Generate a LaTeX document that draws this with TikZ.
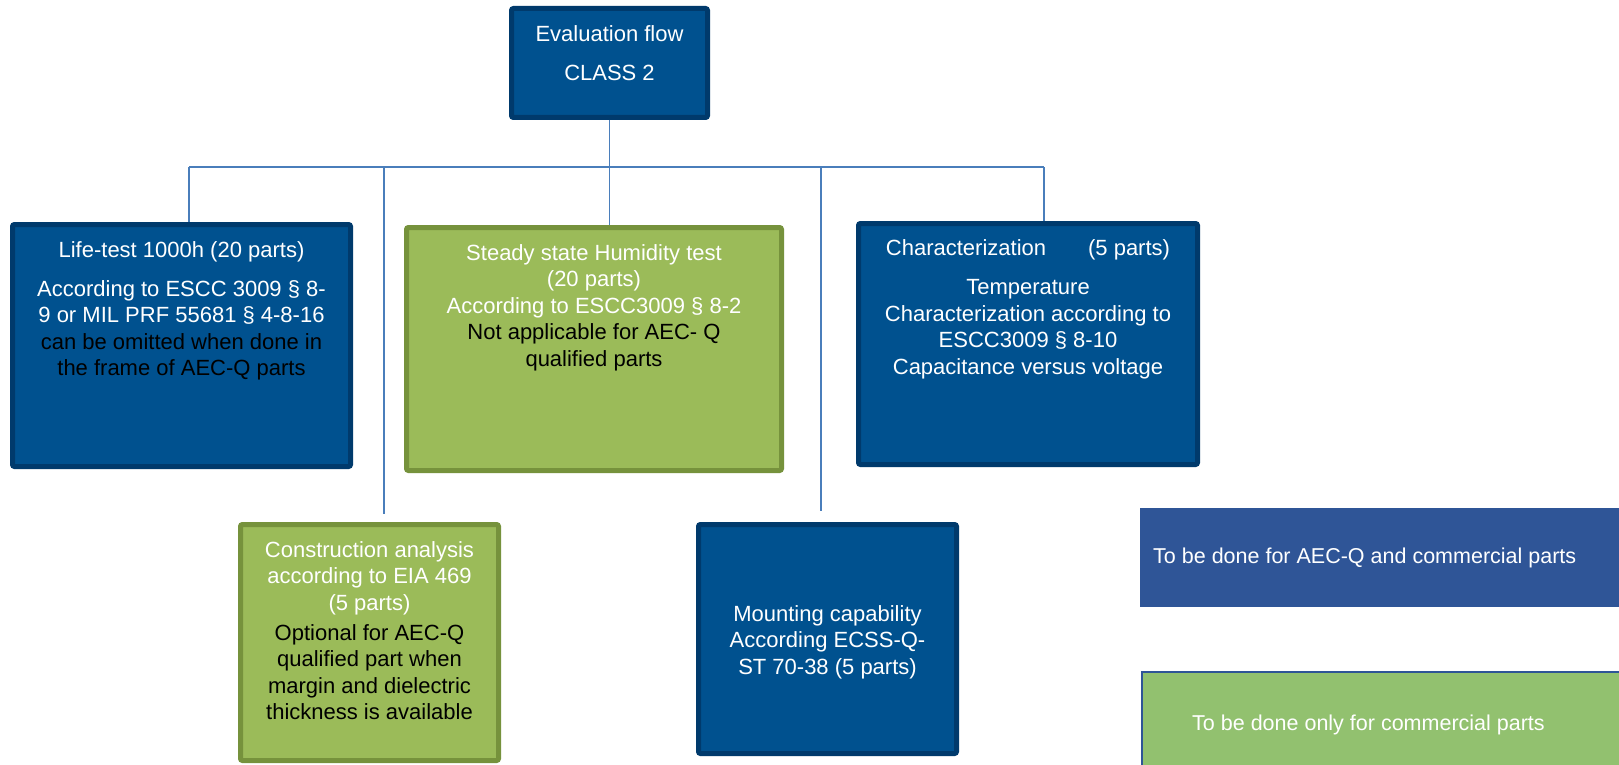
\documentclass[tikz,border=0pt]{standalone}
\usepackage{fontspec}
\setmainfont{Liberation Sans}
\definecolor{bfill}{HTML}{00518F}
\definecolor{bdraw}{HTML}{003A6C}
\definecolor{gfill}{HTML}{9BBB59}
\definecolor{gdraw}{HTML}{76923C}
\definecolor{lblue}{HTML}{2F5597}
\definecolor{lgreen}{HTML}{92C16F}
\definecolor{conncol}{HTML}{4A7EBB}
\begin{document}
\begin{tikzpicture}[x=1pt,y=-1pt,
  bluebox/.style={draw=bdraw, fill=bfill, line width=5pt, rounded corners=2pt, inner sep=0pt},
  greenbox/.style={draw=gdraw, fill=gfill, line width=5pt, rounded corners=2pt, inner sep=0pt},
  txt/.style={anchor=north, align=center, inner sep=0pt, text=white, font=\fontsize{22}{26.5}\selectfont},
  legtxt/.style={anchor=west, inner sep=0pt, text=white, font=\fontsize{21.5}{26}\selectfont},
  conn/.style={draw=conncol, line width=1.5pt}]
\useasboundingbox (0,0) rectangle (1619,765);
\fill[white] (0,0) rectangle (1619,765);

% boxes
\node[bluebox, minimum width=196pt, minimum height=109pt] (top) at (609.5,63) {};
\node[bluebox, minimum width=338pt, minimum height=242pt] (life) at (181.5,345.5) {};
\node[greenbox, minimum width=375pt, minimum height=243pt] (steady) at (594,349) {};
\node[bluebox, minimum width=339pt, minimum height=241pt] (char) at (1028,344) {};
\node[greenbox, minimum width=258pt, minimum height=236pt] (constr) at (369.5,642.5) {};
\node[bluebox, minimum width=258pt, minimum height=229pt] (mount) at (827.5,639) {};
\node[fill=lblue, inner sep=0pt, minimum width=479pt, minimum height=99pt] (legA) at (1379.5,557.5) {};
\node[fill=lgreen, draw=lblue, line width=1.5pt, inner sep=0pt, minimum width=480pt, minimum height=100pt] (legB) at (1382,722) {};

% connectors
\coordinate (busL) at (189,167);
\coordinate (busR) at (1044,167);
\coordinate (cEnd) at (384,514);
\coordinate (mEnd) at (821,511);
\draw[conn] (top.south) -- (top.south |- steady.north);
\draw[conn] (busL) -- (busR);
\draw[conn] (busL) -- (busL |- life.north);
\draw[conn] (busR) -- (busR |- char.north);
\draw[conn] (cEnd |- busL) -- (cEnd);
\draw[conn] (mEnd |- busL) -- (mEnd);

% texts
\node[txt] (topT) at (609.5,25) {Evaluation flow\\[12.5pt]CLASS 2};
\node[txt] (lifeT) at (181.5,241) {Life-test 1000h (20 parts)\\[12.5pt]According to ESCC 3009 § 8-\\9 or MIL PRF 55681 § 4-8-16\\\textcolor{black}{can be omitted when done in}\\\textcolor{black}{the frame of AEC-Q parts}};
\node[txt] (steadyT) at (594,244) {Steady state Humidity test\\(20 parts)\\According to ESCC3009 § 8-2\\\textcolor{black}{Not applicable for AEC- Q}\\\textcolor{black}{qualified parts}};
\node[txt] (charT) at (1028,239) {Characterization\hspace*{42pt}(5 parts)\\[13pt]Temperature\\Characterization according to\\ESCC3009 § 8-10\\Capacitance versus voltage};
\node[txt] (constrT) at (369.5,541) {Construction analysis\\according to EIA 469\\(5 parts)\\[3.5pt]\textcolor{black}{Optional for AEC-Q}\\\textcolor{black}{qualified part when}\\\textcolor{black}{margin and dielectric}\\\textcolor{black}{thickness is available}};
\node[txt] (mountT) at (827.5,605) {Mounting capability\\According ECSS-Q-\\ST 70-38 (5 parts)};
\node[legtxt] (legAT) at (1153,558) {To be done for AEC-Q and commercial parts};
\node[legtxt] (legBT) at (1192,725) {To be done only for commercial parts};
\end{tikzpicture}
\end{document}
